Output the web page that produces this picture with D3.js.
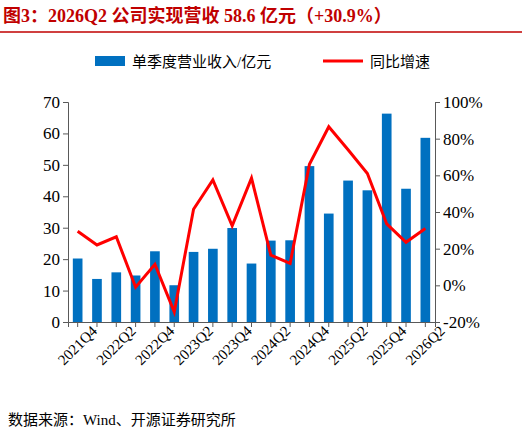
<!DOCTYPE html>
<html>
<head>
<meta charset="UTF-8">
<script src="https://cdn.jsdelivr.net/npm/d3@7"></script>
<style>
body{margin:0;background:#fff;}
svg text{font-family:"Liberation Serif","Noto Sans CJK SC",serif;}
</style>
</head>
<body>
<svg id="c" width="522" height="435"></svg>
<script>
var quarters = ["2021Q4","2022Q1","2022Q2","2022Q3","2022Q4","2023Q1","2023Q2","2023Q3","2023Q4","2024Q1","2024Q2","2024Q3","2024Q4","2025Q1","2025Q2","2025Q3","2025Q4","2026Q1","2026Q2"];
var revenue = [20.2,13.7,15.8,14.8,22.5,11.7,22.3,23.3,29.9,18.6,25.9,26,49.6,34.5,45,41.9,66.3,42.4,58.6];
var growth = [29.5,22,26.5,-1,11.5,-14.5,41.5,57.5,32.5,58.5,16.5,12,66,86.5,74,61,33.5,23.5,31];
var leftTicks = [0,10,20,30,40,50,60,70];
var rightTicks = [-20,0,20,40,60,80,100];

var svg = d3.select("#c");
var L = 68, R = 435, T = 102, B = 322;

// title
svg.append("text").attr("x",3).attr("y",22).attr("fill","#c00000")
  .attr("font-size",18).attr("font-weight","bold")
  .text("图3：2026Q2 公司实现营收 58.6 亿元（+30.9%）");
svg.append("line").attr("x1",0).attr("x2",522).attr("y1",32).attr("y2",32)
  .attr("stroke","#c00000").attr("stroke-width",1.5);

var x = d3.scaleBand().domain(quarters).range([L,R]).paddingInner(0.5).paddingOuter(0.25);
var y = d3.scaleLinear().domain([0,70]).range([B,T]);
var y2 = d3.scaleLinear().domain([-20,100]).range([B,T]);

svg.selectAll("rect.bar").data(revenue).enter().append("rect")
  .attr("x",(d,i)=>x(quarters[i])).attr("width",x.bandwidth())
  .attr("y",d=>y(d)).attr("height",d=>B-y(d)).attr("fill","#0070c0");

var line = d3.line().x((d,i)=>x(quarters[i])+x.bandwidth()/2).y(d=>y2(d));
svg.append("path").datum(growth).attr("d",line).attr("fill","none")
  .attr("stroke","#ff0000").attr("stroke-width",3);

var ax = svg.append("g").attr("transform","translate(0,"+B+")")
  .call(d3.axisBottom(x).tickSize(5).tickFormat((d,i)=>i%2===0?d:""));
ax.selectAll("text").attr("font-size",15).attr("fill","#000")
  .attr("text-anchor","end").attr("dx","0.5em").attr("dy","0.9em")
  .attr("transform","rotate(-45)");

var ay = svg.append("g").attr("transform","translate("+L+",0)")
  .call(d3.axisLeft(y).tickValues(leftTicks).tickSize(5));
ay.selectAll("text").attr("font-size",17).attr("fill","#000");

var ay2 = svg.append("g").attr("transform","translate("+R+",0)")
  .call(d3.axisRight(y2).tickValues(rightTicks).tickSize(5).tickFormat(d=>d+"%"));
ay2.selectAll("text").attr("font-size",17).attr("fill","#000");

svg.selectAll("g").attr("font-family",null);
svg.selectAll(".domain,.tick line").attr("stroke","#595959");

// legend
svg.append("rect").attr("x",95).attr("y",56).attr("width",30).attr("height",10).attr("fill","#0070c0");
svg.append("text").attr("x",132).attr("y",67).attr("font-size",15).text("单季度营业收入/亿元");
svg.append("line").attr("x1",323).attr("x2",363).attr("y1",61).attr("y2",61).attr("stroke","#ff0000").attr("stroke-width",3);
svg.append("text").attr("x",370).attr("y",67).attr("font-size",15).text("同比增速");

svg.append("text").attr("x",8).attr("y",425).attr("font-size",15).text("数据来源：Wind、开源证券研究所");
</script>
</body>
</html>
